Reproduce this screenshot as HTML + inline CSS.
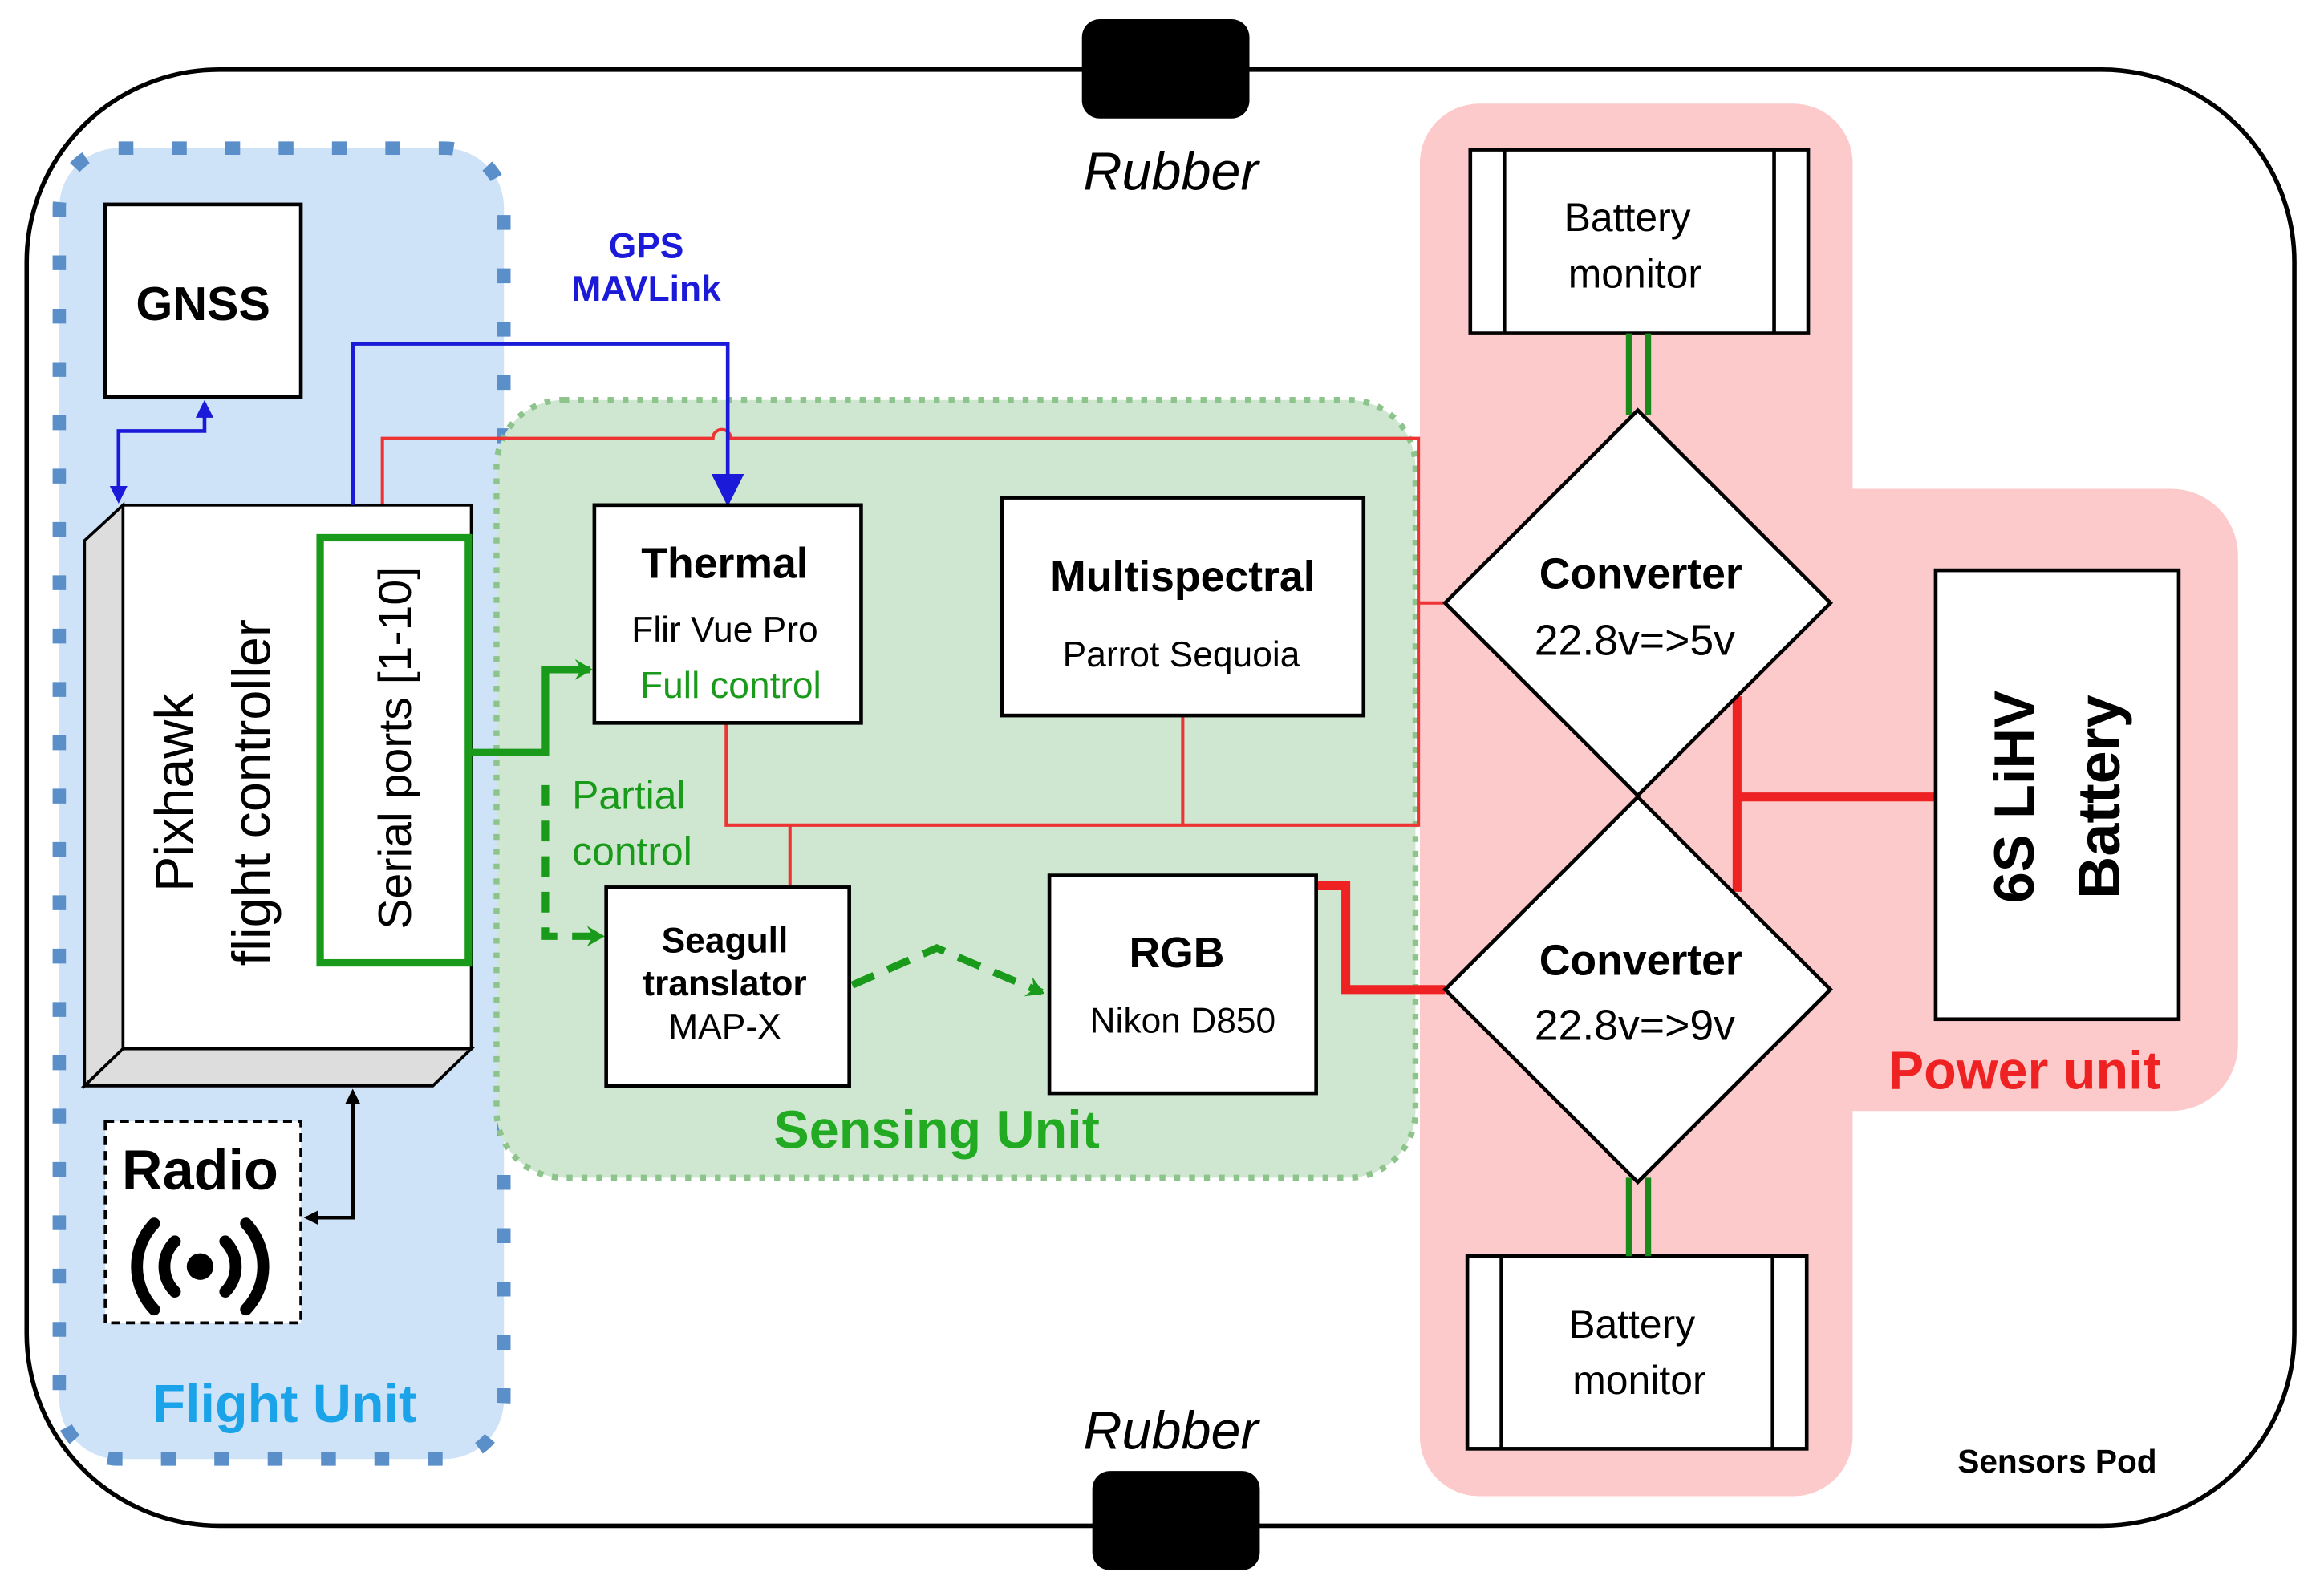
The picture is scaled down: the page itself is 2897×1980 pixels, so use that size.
<!DOCTYPE html>
<html><head><meta charset="utf-8"><style>html,body{margin:0;padding:0;background:#fff}svg{display:block}</style></head>
<body>
<svg width="2897" height="1980" viewBox="0 0 1568 1072" preserveAspectRatio="none" xmlns="http://www.w3.org/2000/svg" font-family="Liberation Sans, sans-serif">
<defs>
<marker id="ab" markerWidth="12" markerHeight="12" refX="10" refY="6" orient="auto-start-reverse" markerUnits="userSpaceOnUse"><path d="M0,0 L12,6 L0,12 z" fill="#1a1ad8"/></marker>
<marker id="abig" markerWidth="22" markerHeight="22" refX="18" refY="11" orient="auto" markerUnits="userSpaceOnUse"><path d="M0,0 L22,11 L0,22 z" fill="#1a1ad8"/></marker>
<marker id="ak" markerWidth="10" markerHeight="10" refX="8" refY="5" orient="auto-start-reverse" markerUnits="userSpaceOnUse"><path d="M0,0 L10,5 L0,10 z" fill="#000"/></marker>
<marker id="ag" markerWidth="14" markerHeight="14" refX="10" refY="7" orient="auto" markerUnits="userSpaceOnUse"><path d="M0,0 L12,7 L0,14 L4,7 z" fill="#1a9a1a"/></marker>
</defs>
<rect x="18" y="47" width="1530" height="983" rx="130" fill="#fff" stroke="#000" stroke-width="3"/>
<g fill="#fccaca">
<rect x="958" y="70" width="292" height="940" rx="40"/>
<rect x="1180" y="330" width="330" height="420" rx="45"/>
</g>
<rect x="40" y="100" width="300" height="885" rx="40" fill="#cfe3f8" stroke="#5b8fc9" stroke-width="9" stroke-dasharray="10,26"/>
<rect x="335" y="270" width="620" height="525" rx="45" fill="#cfe7d1" stroke="#8cc48c" stroke-width="4" stroke-dasharray="4,6"/>
<rect x="730" y="13" width="113" height="67" rx="12" fill="#000"/>
<rect x="737" y="993" width="113" height="67" rx="12" fill="#000"/>
<text x="790" y="128" font-size="36" font-style="italic" text-anchor="middle">Rubber</text>
<text x="790" y="978" font-size="36" font-style="italic" text-anchor="middle">Rubber</text>
<g stroke="#ee3333" stroke-width="2.2" fill="none">
<path d="M258,341 V296 H481 A6,6 0 0 1 493,296 H957 V557 H490 V488"/>
<path d="M957,407 H975"/>
<path d="M798,483 V557"/>
<path d="M533,557 V599"/>
</g>
<g stroke="#ee2222" stroke-width="6" fill="none">
<path d="M888,598 H908 V668 H975"/>
<path d="M1306,538 H1172"/>
<path d="M1172,470 V602"/>
</g>
<rect x="71" y="138" width="132" height="130" fill="#fff" stroke="#000" stroke-width="2.5"/>
<text x="137" y="216" font-size="32" font-weight="bold" text-anchor="middle">GNSS</text>
<polygon points="57,365 83,341 83,708 57,733" fill="#ddd" stroke="#000" stroke-width="2"/>
<polygon points="57,733 83,708 318,708 292,733" fill="#ddd" stroke="#000" stroke-width="2"/>
<rect x="83" y="341" width="235" height="367" fill="#fff" stroke="#000" stroke-width="2"/>
<text transform="translate(130,535) rotate(-90)" font-size="36" text-anchor="middle">Pixhawk</text>
<text transform="translate(182,535) rotate(-90)" font-size="36" text-anchor="middle">flight controller</text>
<rect x="216" y="363" width="100" height="287" fill="#fff" stroke="#1a9a1a" stroke-width="5"/>
<text transform="translate(277,505) rotate(-90)" font-size="31" text-anchor="middle">Serial ports [1-10]</text>
<rect x="71" y="757" width="132" height="136" fill="#fff" stroke="#000" stroke-width="2" stroke-dasharray="6,4"/>
<text x="135" y="803" font-size="38" font-weight="bold" text-anchor="middle">Radio</text>
<circle cx="135" cy="855" r="9" fill="#000"/>
<g fill="none" stroke="#000" stroke-width="8" stroke-linecap="round">
<path d="M118,838 A24,24 0 0 0 118,872"/><path d="M152,838 A24,24 0 0 1 152,872"/>
<path d="M104,826 A42,42 0 0 0 104,884"/><path d="M166,826 A42,42 0 0 1 166,884"/>
</g>
<path d="M238,737 V822 H207" stroke="#000" stroke-width="2.5" fill="none" marker-end="url(#ak)" marker-start="url(#ak)"/>
<g stroke="#1a1ad8" stroke-width="2.5" fill="none">
<path d="M138,272 V291 H80 V338" marker-end="url(#ab)" marker-start="url(#ab)"/>
<path d="M238,341 V232 H491 V338" marker-end="url(#abig)"/>
</g>
<text x="436" y="174" font-size="24" font-weight="bold" fill="#1a1ad8" text-anchor="middle">GPS</text>
<text x="436" y="203" font-size="24" font-weight="bold" fill="#1a1ad8" text-anchor="middle">MAVLink</text>
<path d="M316,508 H368 V452 H398" stroke="#1a9a1a" stroke-width="5" fill="none" marker-end="url(#ag)"/>
<path d="M368,530 V632 H406" stroke="#1a9a1a" stroke-width="5" fill="none" stroke-dasharray="14,10" marker-end="url(#ag)"/>
<path d="M575,665 L632,640 L703,670" stroke="#1a9a1a" stroke-width="5" fill="none" stroke-dasharray="16,10" marker-end="url(#ag)"/>
<text x="386" y="546" font-size="27" fill="#1a9a1a">Partial</text>
<text x="386" y="584" font-size="27" fill="#1a9a1a">control</text>
<rect x="401" y="341" width="180" height="147" fill="#fff" stroke="#000" stroke-width="2.5"/>
<text x="489" y="390" font-size="29" font-weight="bold" text-anchor="middle">Thermal</text>
<text x="489" y="433" font-size="24" text-anchor="middle">Flir Vue Pro</text>
<text x="493" y="471" font-size="25" fill="#1a9a1a" text-anchor="middle">Full control</text>
<rect x="676" y="336" width="244" height="147" fill="#fff" stroke="#000" stroke-width="2.5"/>
<text x="798" y="399" font-size="29" font-weight="bold" text-anchor="middle">Multispectral</text>
<text x="797" y="450" font-size="24" text-anchor="middle">Parrot Sequoia</text>
<rect x="409" y="599" width="164" height="134" fill="#fff" stroke="#000" stroke-width="2.5"/>
<text x="489" y="643" font-size="24" font-weight="bold" text-anchor="middle">Seagull</text>
<text x="489" y="672" font-size="24" font-weight="bold" text-anchor="middle">translator</text>
<text x="489" y="701" font-size="24" text-anchor="middle">MAP-X</text>
<rect x="708" y="591" width="180" height="147" fill="#fff" stroke="#000" stroke-width="2.5"/>
<text x="794" y="653" font-size="29" font-weight="bold" text-anchor="middle">RGB</text>
<text x="798" y="697" font-size="24" text-anchor="middle">Nikon D850</text>
<text x="632" y="775" font-size="36" font-weight="bold" fill="#22aa22" text-anchor="middle">Sensing Unit</text>
<text x="192" y="960" font-size="36" font-weight="bold" fill="#1aa3e8" text-anchor="middle">Flight Unit</text>
<g fill="#fff" stroke="#000" stroke-width="2.5">
<rect x="992" y="101" width="228" height="124"/>
<rect x="990" y="848" width="229" height="130"/>
</g>
<g stroke="#000" stroke-width="2.5">
<path d="M1015,101 V225 M1197,101 V225 M1013,848 V978 M1196,848 V978"/>
</g>
<text x="1098" y="156" font-size="27" text-anchor="middle">Battery</text>
<text x="1103" y="194" font-size="27" text-anchor="middle">monitor</text>
<text x="1101" y="903" font-size="27" text-anchor="middle">Battery</text>
<text x="1106" y="941" font-size="27" text-anchor="middle">monitor</text>
<g stroke="#1a8a1a" stroke-width="4">
<path d="M1099,225 V280 M1112,225 V280 M1099,795 V848 M1112,795 V848"/>
</g>
<g fill="#fff" stroke="#000" stroke-width="2.5">
<polygon points="1105,277 1235,407 1105,537 975,407"/>
<polygon points="1105,538 1235,668 1105,798 975,668"/>
</g>
<text x="1107" y="397" font-size="29" font-weight="bold" text-anchor="middle">Converter</text>
<text x="1103" y="442" font-size="29" text-anchor="middle">22.8v=&gt;5v</text>
<text x="1107" y="658" font-size="29" font-weight="bold" text-anchor="middle">Converter</text>
<text x="1103" y="702" font-size="29" text-anchor="middle">22.8v=&gt;9v</text>
<rect x="1306" y="385" width="164" height="303" fill="#fff" stroke="#000" stroke-width="2.5"/>
<text transform="translate(1372,538) rotate(-90)" font-size="38" font-weight="bold" text-anchor="middle">6S LiHV</text>
<text transform="translate(1430,538) rotate(-90)" font-size="40" font-weight="bold" text-anchor="middle">Battery</text>
<text x="1366" y="735" font-size="36" font-weight="bold" fill="#ee2222" text-anchor="middle">Power unit</text>
<text x="1388" y="994" font-size="22" font-weight="bold" text-anchor="middle">Sensors Pod</text>
</svg>
</body></html>
